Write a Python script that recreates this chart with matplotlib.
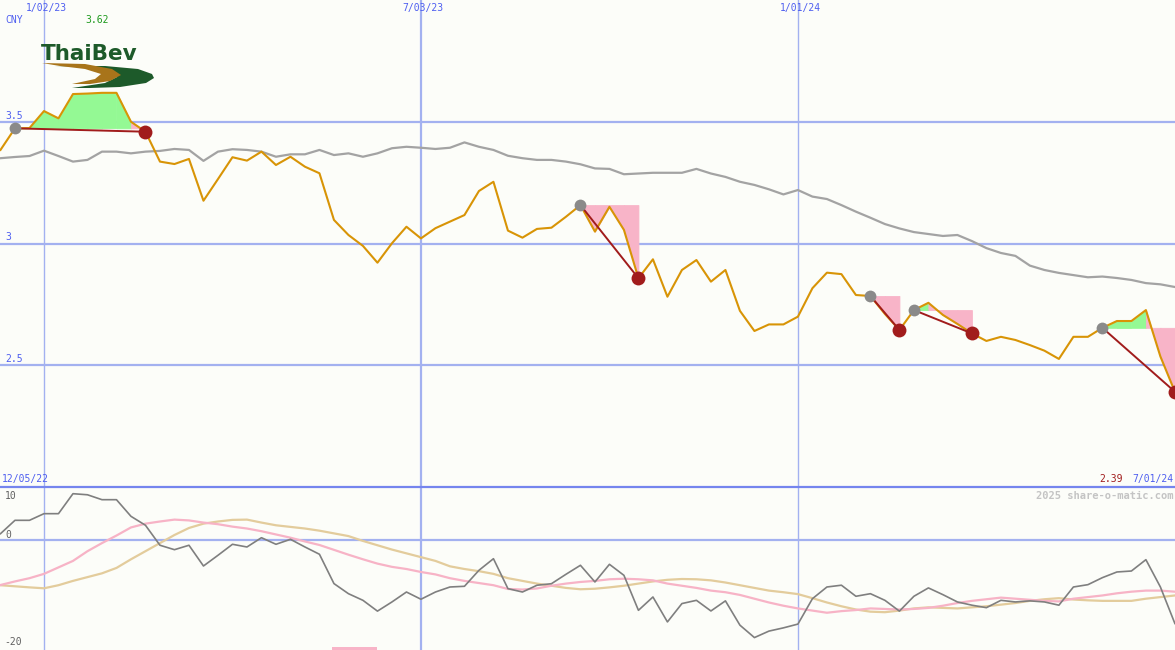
#!/usr/bin/env python3
# Weekly price chart with signal shading and momentum panel (share-o-matic style)
import numpy as np
import pandas as pd
import matplotlib
matplotlib.use("Agg")
import matplotlib.pyplot as plt
from matplotlib.patches import Polygon

plt.rcParams["font.family"] = ["DejaVu Sans Mono", "DejaVu Sans"]

# ----------- DATA -----------
dates = pd.date_range("2022-12-12", "2024-07-01", freq="7D")   # 82 weekly points

price = [3.385, 3.474, 3.475, 3.545, 3.515, 3.615, 3.617, 3.62, 3.62, 3.501,
         3.46, 3.337, 3.327, 3.348, 3.176, 3.265, 3.355, 3.341, 3.378, 3.323,
         3.357, 3.316, 3.289, 3.097, 3.035, 2.99, 2.921, 3.001, 3.069, 3.021,
         3.063, 3.09, 3.117, 3.216, 3.254, 3.053, 3.024, 3.06, 3.065, 3.11,
         3.158, 3.049, 3.151, 3.056, 2.857, 2.935, 2.781, 2.891, 2.932, 2.843,
         2.891, 2.723, 2.64, 2.667, 2.667, 2.699, 2.816, 2.88, 2.874, 2.788,
         2.784, 2.71, 2.644, 2.726, 2.756, 2.706, 2.669, 2.63, 2.599, 2.616,
         2.603, 2.582, 2.559, 2.525, 2.616, 2.616, 2.653, 2.681, 2.681, 2.726,
         2.535, 2.39]

sma = [3.351, 3.356, 3.36, 3.382, 3.36, 3.337, 3.344, 3.378, 3.378, 3.371,
       3.378, 3.381, 3.389, 3.385, 3.34, 3.378, 3.388, 3.385, 3.378, 3.357,
       3.367, 3.367, 3.385, 3.364, 3.371, 3.357, 3.371, 3.392, 3.398, 3.394,
       3.389, 3.394, 3.416, 3.398, 3.385, 3.361, 3.351, 3.344, 3.344, 3.337,
       3.326, 3.309, 3.307, 3.285, 3.288, 3.291, 3.291, 3.291, 3.307, 3.288,
       3.274, 3.254, 3.241, 3.223, 3.202, 3.22, 3.193, 3.183, 3.158, 3.131,
       3.106, 3.08, 3.062, 3.047, 3.039, 3.031, 3.035, 3.01, 2.981, 2.961,
       2.949, 2.909, 2.891, 2.879, 2.87, 2.861, 2.864, 2.858, 2.85, 2.837,
       2.832, 2.821]

momentum = [1.24, 3.72, 3.72, 4.95, 4.95, 8.65, 8.45, 7.54, 7.54, 4.46,
            2.8, -0.9, -1.72, -0.9, -4.74, -2.76, -0.72, -1.22, 0.5, -0.72,
            0.2, -1.22, -2.57, -8.0, -9.87, -11.1, -13.1, -11.4, -9.56, -10.9,
            -9.56, -8.63, -8.5, -5.54, -3.39, -8.94, -9.56, -8.31, -8.02, -6.28,
            -4.61, -7.7, -4.43, -6.47, -12.95, -10.48, -15.1, -11.7, -11.1, -13.07,
            -11.2, -15.7, -18.0, -16.8, -16.2, -15.5, -10.8, -8.63, -8.3, -10.35,
            -9.87, -11.1, -13.1, -10.35, -8.8, -10.05, -11.4, -12.0, -12.46, -11.1,
            -11.4, -11.2, -11.4, -12.0, -8.63, -8.2, -6.9, -5.85, -5.67, -3.57,
            -8.63, -15.4]

signal_fast = [-8.26, -7.6, -7.0, -6.2, -5.0, -3.8, -2.0, -0.5, 0.9, 2.4,
               3.1, 3.5, 3.85, 3.7, 3.3, 3.0, 2.55, 2.2, 1.7, 1.1,
               0.5, -0.2, -0.85, -1.75, -2.65, -3.5, -4.3, -4.9, -5.3, -5.85,
               -6.3, -7.0, -7.5, -7.9, -8.3, -9.0, -9.1, -8.9, -8.4, -8.0,
               -7.7, -7.5, -7.2, -7.1, -7.2, -7.4, -8.0, -8.4, -8.8, -9.3,
               -9.6, -10.1, -10.8, -11.5, -12.1, -12.6, -13.0, -13.4, -13.1, -12.9,
               -12.6, -12.7, -12.8, -12.7, -12.5, -12.1, -11.6, -11.2, -10.9, -10.6,
               -10.8, -11.0, -11.2, -11.3, -10.8, -10.5, -10.2, -9.8, -9.5, -9.3,
               -9.3, -9.5]

signal_slow = [-8.3, -8.5, -8.7, -8.87, -8.3, -7.5, -6.8, -6.1, -5.1, -3.5,
               -2.0, -0.5, 1.0, 2.3, 3.1, 3.5, 3.8, 3.85, 3.3, 2.8,
               2.5, 2.2, 1.8, 1.3, 0.8, -0.1, -0.9, -1.7, -2.4, -3.1,
               -3.8, -4.8, -5.3, -5.7, -6.2, -7.0, -7.5, -8.0, -8.4, -8.8,
               -9.05, -8.95, -8.7, -8.4, -8.0, -7.6, -7.3, -7.15, -7.2, -7.4,
               -7.8, -8.3, -8.8, -9.3, -9.6, -9.95, -10.7, -11.5, -12.2, -12.8,
               -13.2, -13.3, -13.0, -12.6, -12.4, -12.5, -12.6, -12.4, -12.2, -11.9,
               -11.6, -11.2, -10.9, -10.7, -10.95, -11.1, -11.2, -11.2, -11.2, -10.8,
               -10.5, -10.2]

# signal trades: entry (grey dot) -> exit (red dot)
sig_start = ["2022-12-19", "2023-09-18", "2024-02-05", "2024-02-26", "2024-05-27"]
sig_end   = ["2023-02-20", "2023-10-16", "2024-02-19", "2024-03-25", "2024-07-01"]

grid_dates  = ["2023-01-02", "2023-07-03", "2024-01-01"]
grid_labels = ["1/02/23", "7/03/23", "1/01/24"]
price_ticks = [3.5, 3.0, 2.5]
price_tick_labels = ["3.5", "3", "2.5"]

# small pink marker bar in the lower panel
mark_date  = ["2023-06-01"]
mark_width = [22]   # days

# ----------- STYLE -----------
BG      = "#fcfdf9"
GRID    = "#a3b1f0"
DIV     = "#7585ee"
TXTBLUE = "#4e5ef0"
ORANGE  = "#d89406"
SMA_C   = "#a3a3a3"
GREEN   = "#94f994"
PINK    = "#f8b4c8"
DKRED   = "#a11c1c"
MOM_C   = "#7f7f7f"
FAST_C  = "#f7b3c6"
SLOW_C  = "#e3cc9c"

W, H = 1175, 650
TOP_H = 487

s_price = pd.Series(price, index=dates)
xlim = (dates[0] - pd.Timedelta(days=0.23), dates[-1] + pd.Timedelta(days=0.05))

fig = plt.figure(figsize=(W / 100, H / 100), dpi=100, facecolor=BG)
ax = fig.add_axes([0, (H - TOP_H) / H, 1, TOP_H / H], facecolor=BG)
ax2 = fig.add_axes([0, 0, 1, (H - TOP_H) / H], facecolor=BG)

for a in (ax, ax2):
    a.set_xlim(*xlim)
    a.set_xticks([]); a.set_yticks([])
    for sp in a.spines.values():
        sp.set_visible(False)

# ---- top panel ----
ax.set_ylim(1.998, 4.002)
for v in price_ticks:
    ax.axhline(v, color=GRID, lw=1.6, zorder=1)
for d, lw in zip(grid_dates, [1.0, 1.6, 1.0]):
    ax.axvline(pd.Timestamp(d), color=GRID, lw=lw, zorder=1)

# shading between price and entry level (colour by where each week ends)
for s, e in zip(sig_start, sig_end):
    i0 = dates.get_loc(pd.Timestamp(s))
    i1 = dates.get_loc(pd.Timestamp(e))
    level = price[i0]
    for i in range(i0, i1):
        col = GREEN if price[i + 1] >= level else PINK
        ax.fill_between(dates[i:i + 2], price[i:i + 2], level, facecolor=col,
                        edgecolor=col, lw=0.6, zorder=2)

ax.plot(dates, sma, color=SMA_C, lw=1.6, zorder=3)
ax.plot(dates, price, color=ORANGE, lw=1.5, zorder=4)

for s, e in zip(sig_start, sig_end):
    ts, te = pd.Timestamp(s), pd.Timestamp(e)
    ax.plot([ts, te], [s_price[ts], s_price[te]], color=DKRED, lw=1.4, zorder=5)
    ax.plot(ts, s_price[ts], "o", ms=8.5, color="#8a8a8a", mec="none", zorder=6)
    ax.plot(te, s_price[te], "o", ms=10, color=DKRED, mec="none", zorder=6, clip_on=False)

# ---- bottom panel ----
ax2.set_ylim(-20.3, 9.89)
ax2.axhline(0, color=GRID, lw=1.6, zorder=1)
for d, lw in zip(grid_dates, [1.0, 1.6, 1.0]):
    ax2.axvline(pd.Timestamp(d), color=GRID, lw=lw, zorder=1)
ax2.spines["top"].set_visible(True)
ax2.spines["top"].set_color(DIV)
ax2.spines["top"].set_linewidth(1.6)

ax2.plot(dates, signal_slow, color=SLOW_C, lw=1.6, zorder=3)
ax2.plot(dates, signal_fast, color=FAST_C, lw=1.6, zorder=3)
ax2.plot(dates, momentum, color=MOM_C, lw=1.2, zorder=4)
ax2.bar(pd.to_datetime(mark_date), [0.6], bottom=-20.3, width=mark_width,
        color=PINK, zorder=2)

# ---- text ----
def ftext(x, y, s, **kw):
    fig.text(x / W, 1 - y / H, s, **kw)

for d, lab in zip(grid_dates, grid_labels):
    xp = (pd.Timestamp(d) - xlim[0]) / (xlim[1] - xlim[0]) * W
    ftext(xp + 2, 8, lab, color=TXTBLUE, fontsize=7, ha="center", va="center")
ftext(5, 20, "CNY", color=TXTBLUE, fontsize=7, ha="left", va="center")
ftext(85, 20, "%.2f" % max(price), color="#1e9a1e", fontsize=7, ha="left", va="center")
for v, lab in zip(price_ticks, price_tick_labels):
    yp = TOP_H * (4.002 - v) / (4.002 - 1.998)
    ftext(5, yp - 6, lab, color=TXTBLUE, fontsize=7, ha="left", va="center")
ftext(2, 479, "12/05/22", color=TXTBLUE, fontsize=7, ha="left", va="center")
ftext(1173, 479, "7/01/24", color=TXTBLUE, fontsize=7, ha="right", va="center")
ftext(1123, 479, "%.2f" % price[-1], color=DKRED, fontsize=7, ha="right", va="center")
ftext(1173, 496, "2025 share-o-matic.com", color="#c4c4c4", fontsize=7.5,
      fontweight="bold", ha="right", va="center")
ftext(5, 496, "10", color="#606060", fontsize=7, ha="left", va="center")
ftext(5, 535, "0", color="#606060", fontsize=7, ha="left", va="center")
ftext(4, 642, "-20", color="#606060", fontsize=7, ha="left", va="center")

# ---- logo (drawn in pixel space) ----
lg = fig.add_axes([0, 0, 1, 1], facecolor="none")
lg.set_xlim(0, W); lg.set_ylim(H, 0); lg.axis("off")
lg.text(41, 54, "ThaiBev", color="#1d5a2a", fontsize=15.5, fontweight="bold",
        family="DejaVu Sans", ha="left", va="center")
green_sw = [(55, 66), (105, 66), (138, 69), (152, 74), (154, 78), (146, 83),
            (120, 87), (90, 88), (72, 88), (105, 83), (117, 77), (112, 71), (90, 67)]
brown_sw = [(42, 63), (85, 64), (112, 69), (121, 75), (110, 81), (90, 84),
            (72, 84), (95, 79), (101, 74), (85, 69), (60, 66)]
lg.add_patch(Polygon(green_sw, closed=True, color="#1d5a2a", lw=0))
lg.add_patch(Polygon(brown_sw, closed=True, color="#a8741a", lw=0))

fig.savefig("out.png", dpi=100, facecolor=BG)
